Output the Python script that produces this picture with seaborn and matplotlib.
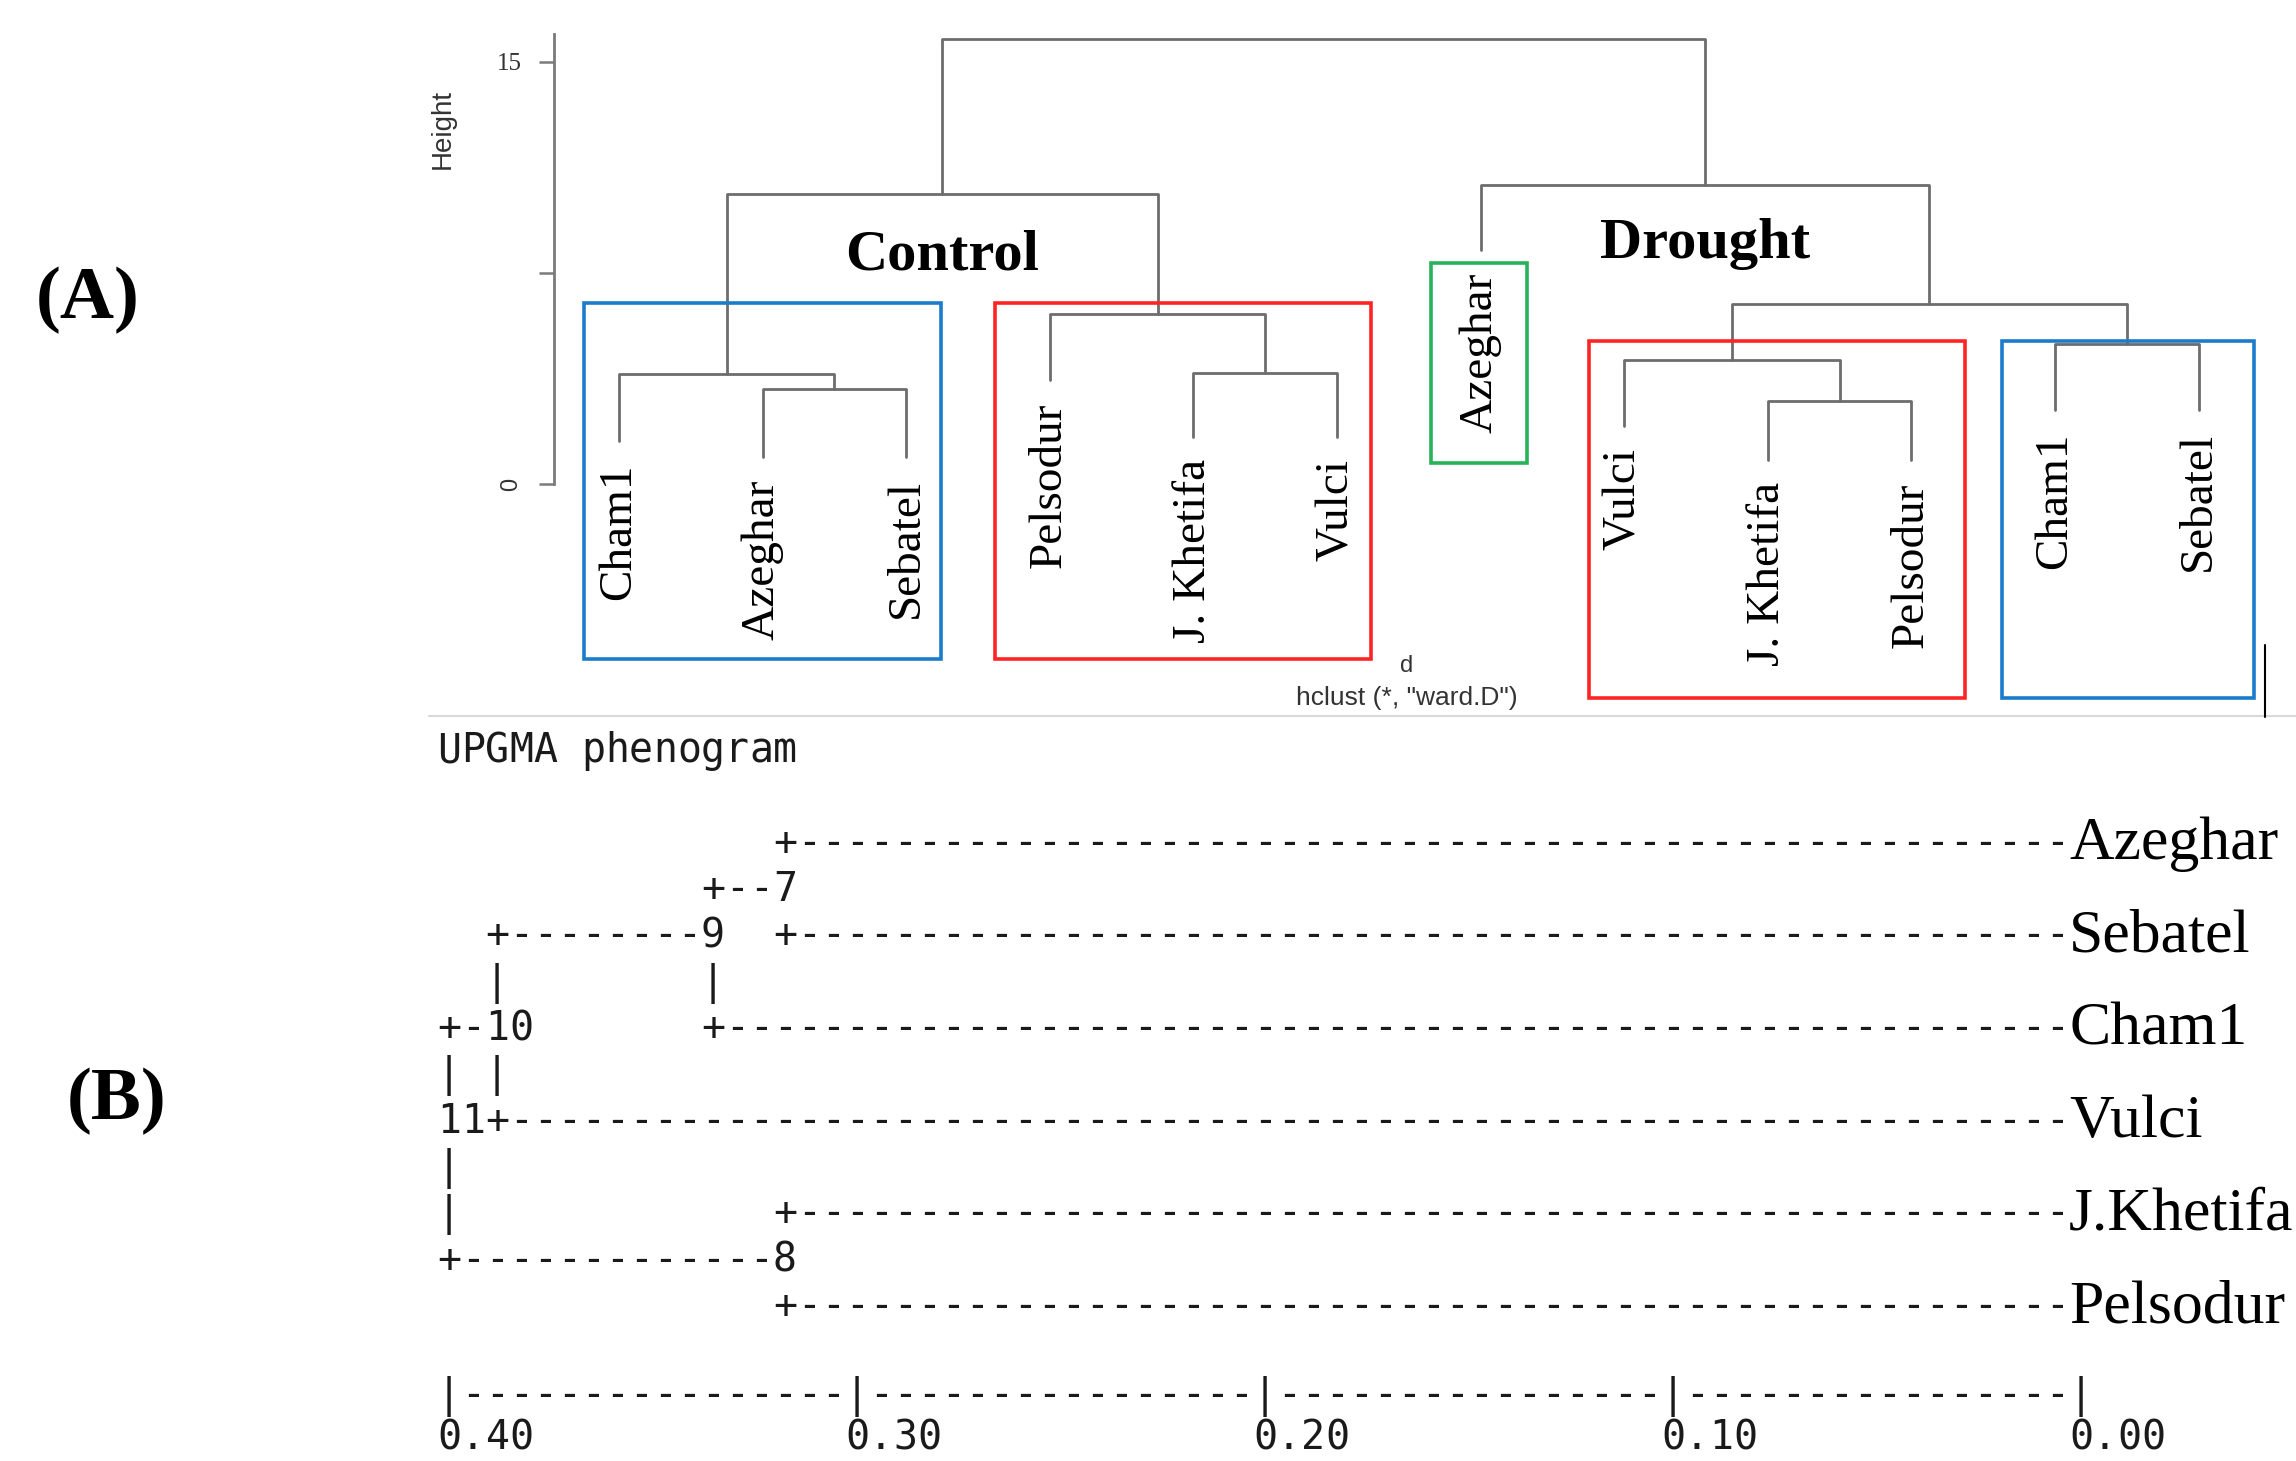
import numpy as np
import pandas as pd
import matplotlib
matplotlib.use("Agg")
import matplotlib.pyplot as plt
from matplotlib.patches import Rectangle
from matplotlib.lines import Line2D
import seaborn as sns

# ---------------- (A) ward.D dendrogram data ----------------
leaf_labels_A = ["Cham1", "Azeghar", "Sebatel", "Pelsodur", "J. Khetifa", "Vulci",
                 "Azeghar", "Vulci", "J. Khetifa", "Pelsodur", "Cham1", "Sebatel"]
leaf_heights_A = [1.53, 0.96, 0.96, 3.70, 1.67, 1.67, 8.32, 2.06, 0.85, 0.85, 2.63, 2.63]
# R hclust-style merge table (negative = leaf, positive = earlier merge)
merge_left = [-2, -1, -5, -4, 2, -9, -8, -11, 7, -7, 5]
merge_right = [-3, 1, -6, 3, 4, -10, 6, -12, 8, 9, 10]
merge_heights = [3.38, 3.91, 3.95, 6.04, 10.31, 2.95, 4.41, 4.98, 6.40, 10.63, 15.82]
y_ticks_A = [0, 7.5, 15]
y_tick_labels_A = ["0", "", "15"]

cluster_names = ["Control", "Drought"]
cluster_merges = [5, 10]
cluster_name_heights = [7.62, 8.05]

# highlight boxes (leaf units, height units)
box_extents = [(0.756, 3.240, -6.22, 6.43), (3.618, 6.237, -6.22, 6.43),
               (6.658, 7.323, 0.75, 7.86), (7.755, 10.373, -7.61, 5.08),
               (10.631, 12.386, -7.61, 5.08)]
box_colors = ["#1c7ccc", "#ff2424", "#27b35a", "#ff2424", "#1c7ccc"]

# ---------------- (B) UPGMA phenogram data ----------------
pheno_leaves = ["Azeghar", "Sebatel", "Cham1", "Vulci", "J.Khetifa", "Pelsodur"]
pheno_node_ids = ["7", "8", "9", "10", "11"]
pheno_node_children = [("Azeghar", "Sebatel"), ("J.Khetifa", "Pelsodur"),
                       ("7", "Cham1"), ("9", "Vulci"), ("10", "8")]
pheno_node_dist = [0.318, 0.318, 0.335, 0.388, 0.400]
pheno_ticks = [0.40, 0.30, 0.20, 0.10, 0.00]

# ---------------- figure ----------------
sns.set_theme(style="white")
plt.rcParams["font.family"] = ["Liberation Serif", "DejaVu Sans"]

W, H = 2296, 1461
fig = plt.figure(figsize=(W / 100, H / 100), dpi=100)
fig.patch.set_facecolor("white")


def px_rect(l, t, r, b):
    return [l / W, 1 - b / H, (r - l) / W, (b - t) / H]


# ---- panel A ----
leaf_px0, leaf_step = 619.0, 143.6
h0_px, h_scale = 484.0, 422.0 / 15.0
axA = fig.add_axes(px_rect(554, 0, W, 720))
axA.set_facecolor("none")
axA.set_xlim(1 + (554 - leaf_px0) / leaf_step, 1 + (W - leaf_px0) / leaf_step)
axA.set_ylim((h0_px - 720) / h_scale, h0_px / h_scale)

leaf_x = np.arange(1, len(leaf_labels_A) + 1, dtype=float)
node_x = {}


def node_pos(idx):
    if idx < 0:
        return leaf_x[-idx - 1], leaf_heights_A[-idx - 1]
    return node_x[idx], merge_heights[idx - 1]


rows = []
for k, (a, b, h) in enumerate(zip(merge_left, merge_right, merge_heights), start=1):
    xa, ya = node_pos(a)
    xb, yb = node_pos(b)
    node_x[k] = (xa + xb) / 2
    rows += [(k, xa, ya), (k, xa, h), (k, xb, h), (k, xb, yb)]
links = pd.DataFrame(rows, columns=["link", "x", "y"])

sns.lineplot(data=links, x="x", y="y", units="link", estimator=None, sort=False,
             color="#6d6d6d", linewidth=2.0, legend=False, ax=axA)
axA.set_xlabel("")
axA.set_ylabel("")

for s in ["top", "right", "bottom"]:
    axA.spines[s].set_visible(False)
axA.spines["left"].set_bounds(0, 16)
axA.spines["left"].set_color("#7a7a7a")
axA.spines["left"].set_linewidth(2.0)
axA.set_xticks([])
axA.set_yticks(y_ticks_A)
axA.set_yticklabels(y_tick_labels_A)
axA.tick_params(axis="y", left=True, length=11, width=1.8, color="#7a7a7a", pad=12,
                labelcolor="#333333")
tl = axA.get_yticklabels()
tl[0].set_rotation(90)
tl[0].set_fontfamily(["Liberation Sans"])
tl[0].set_fontsize(17)
tl[0].set_va("center")
tl[2].set_fontfamily(["Liberation Serif"])
tl[2].set_fontsize(18)

for x, h, lab in zip(leaf_x, leaf_heights_A, leaf_labels_A):
    axA.annotate(lab, (x, h), xytext=(0, -16), textcoords="offset points",
                 rotation=90, ha="center", va="top", fontsize=34,
                 family=["Liberation Serif"], color="black")

for name, m, hy in zip(cluster_names, cluster_merges, cluster_name_heights):
    axA.text(node_x[m], hy, name, ha="center", va="baseline", fontsize=42,
             fontweight="bold", family=["Liberation Serif"], color="black")

for (x0, x1, y0, y1), c in zip(box_extents, box_colors):
    axA.add_patch(Rectangle((x0, y0), x1 - x0, y1 - y0, fill=False, ec=c,
                            lw=2.6, clip_on=False, zorder=3))

fig.text(443 / W, 1 - 129 / H, "Height", rotation=90, ha="center", va="center",
         fontsize=20, family=["Liberation Sans"], color="#333333")
fig.text(1407 / W, 1 - 666 / H, "d", ha="center", va="center",
         fontsize=17, family=["Liberation Sans"], color="#333333")
fig.text(1407 / W, 1 - 698 / H, 'hclust (*, "ward.D")', ha="center", va="center",
         fontsize=19, family=["Liberation Sans"], color="#333333")

fig.add_artist(Line2D([429 / W, 1.0], [1 - 716 / H] * 2, color="#d9d9d9", lw=1.5))
fig.add_artist(Line2D([2265 / W] * 2, [1 - 645 / H, 1 - 717 / H], color="black", lw=1.5))

fig.text(88 / W, 1 - 300 / H, "(A)", ha="center", va="center", fontsize=54,
         fontweight="bold", family=["Liberation Serif"], color="black")
fig.text(117 / W, 1 - 1101 / H, "(B)", ha="center", va="center", fontsize=54,
         fontweight="bold", family=["Liberation Serif"], color="black")

# ---- panel B (character phenogram) ----
axis_max = pheno_ticks[0]
cols_per_unit = 170.0
col_px0, col_w = 449.0, 24.0
row_px0, row_h = 841.0, 46.3
end_col = 67

axB = fig.add_axes(px_rect(0, 720, W, H))
axB.set_xlim(axis_max + col_px0 / (cols_per_unit * col_w),
             axis_max - (W - col_px0) / (cols_per_unit * col_w))
axB.set_ylim((H - row_px0) / row_h, (720 - row_px0) / row_h)
axB.axis("off")


def d2col(d):
    return int(round((axis_max - d) * cols_per_unit))


grid = {}
row_of, col_of = {}, {}
for i, name in enumerate(pheno_leaves):
    row_of[name] = 2 * i
for nid, (ca, cb), d in zip(pheno_node_ids, pheno_node_children, pheno_node_dist):
    c = d2col(d)
    ra, rb = sorted([row_of[ca], row_of[cb]])
    rm = (ra + rb) // 2
    row_of[nid] = rm
    col_of[nid] = c
    for r in range(ra + 1, rb):
        grid[(r, c)] = "|"
    for child in (ca, cb):
        r = row_of[child]
        grid[(r, c)] = "+"
        stop = col_of[child] if child in col_of else end_col + 1
        for cc in range(c + 1, stop):
            grid[(r, cc)] = "-"
for nid in pheno_node_ids:
    for j, ch in enumerate(nid):
        grid[(row_of[nid], col_of[nid] + j)] = ch
for j, ch in enumerate("UPGMA phenogram"):
    if ch != " ":
        grid[(-2, j)] = ch

mono = dict(ha="center", va="baseline", family=["DejaVu Sans Mono"], fontsize=28.7,
            color="#1a1a1a")
for (r, c), ch in grid.items():
    axB.text(axis_max - c / cols_per_unit, r + 0.30, ch, **mono)

# character scale bar and its tick values
axis_row = 2 * len(pheno_leaves)
tick_cols = [d2col(t) for t in pheno_ticks]
for cc in range(0, max(tick_cols) + 1):
    axB.text(axis_max - cc / cols_per_unit, axis_row + 0.22,
             "|" if cc in tick_cols else "-", **mono)
for t, tc in zip(pheno_ticks, tick_cols):
    for j, ch in enumerate(f"{t:.2f}"):
        axB.text(axis_max - (tc + j) / cols_per_unit, axis_row + 1 + 0.14, ch, **mono)

for name in pheno_leaves:
    axB.text(axis_max - (end_col + 0.5) / cols_per_unit, row_of[name] + 0.39, name,
             ha="left", va="baseline", fontsize=44.5, family=["Liberation Serif"],
             color="black")

fig.savefig("out.png", dpi=100, facecolor="white")
